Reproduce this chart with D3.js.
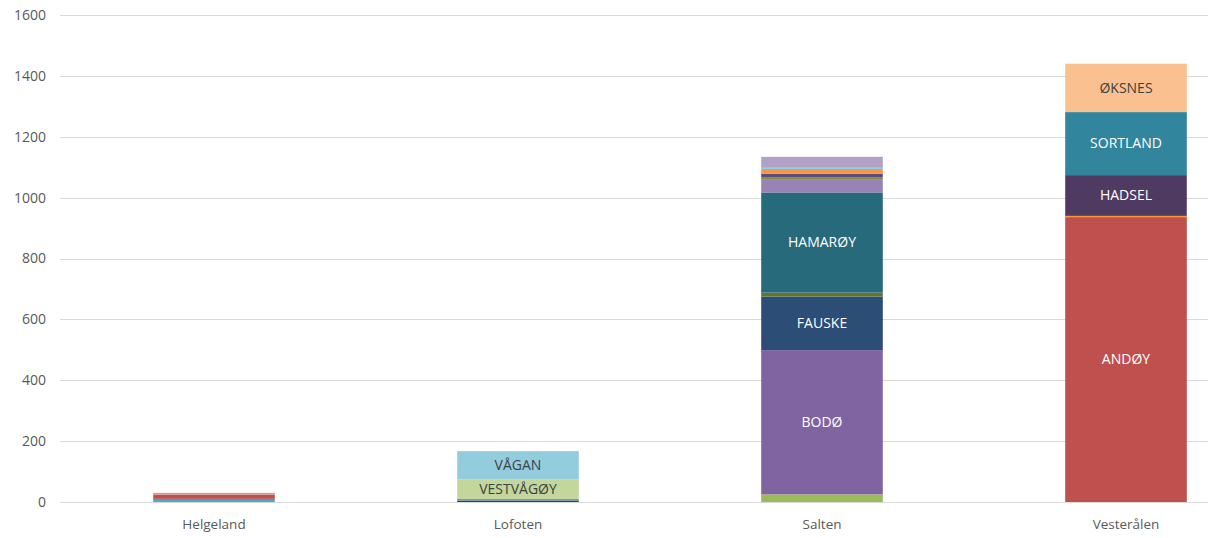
<!DOCTYPE html>
<html>
<head>
<meta charset="utf-8">
<script src="https://cdn.jsdelivr.net/npm/d3@7"></script>
<style>
  body { margin: 0; background: #fff; }
  svg { display: block; font-family: "Open Sans", "Noto Sans", sans-serif; }
</style>
</head>
<body>
<svg width="1208" height="538"></svg>
<script>
// regions on the x axis
var regions = ["Helgeland", "Lofoten", "Salten", "Vesterålen"];

// one entry per stacked segment, bottom to top within each region
var segRegion = ["Helgeland", "Helgeland", "Helgeland", "Helgeland",
                 "Lofoten", "Lofoten", "Lofoten", "Lofoten",
                 "Salten", "Salten", "Salten", "Salten", "Salten", "Salten", "Salten", "Salten", "Salten", "Salten", "Salten",
                 "Vesterålen", "Vesterålen", "Vesterålen", "Vesterålen", "Vesterålen"];
var segLabel  = ["", "", "", "",
                 "", "", "VESTVÅGØY", "VÅGAN",
                 "", "BODØ", "FAUSKE", "", "HAMARØY", "", "", "", "", "", "",
                 "ANDØY", "", "HADSEL", "SORTLAND", "ØKSNES"];
var segValue  = [8, 4, 12, 6,
                 5, 5, 64, 93,
                 25, 474, 176, 13, 329, 44, 5, 12, 16, 4, 36,
                 936, 4, 134, 207, 159];
var segColor  = ["#4bacc6", "#953735", "#c0504d", "#d99694",
                 "#772c2a", "#4bacc6", "#c3d69b", "#93cddd",
                 "#9bbb59", "#8064a2", "#2c4d75", "#5f7530", "#276a7c", "#9983b5", "#77933c", "#604a7b", "#f79646", "#93cddd", "#b2a1c7",
                 "#c0504d", "#f79646", "#4f3b62", "#31859c", "#fac090"];
var segText   = ["", "", "", "",
                 "", "", "#404040", "#404040",
                 "", "#fff", "#fff", "", "#fff", "", "", "", "", "", "",
                 "#fff", "", "#fff", "#fff", "#404040"];

var yTicks = [0, 200, 400, 600, 800, 1000, 1200, 1400, 1600];

var svg = d3.select("svg"),
    width = +svg.attr("width"),
    height = +svg.attr("height"),
    margin = { left: 62, top: 15, bottom: 36 };

// build a table for d3.stack: one row per region, one key per segment
var keys = segValue.map(function (v, i) { return "s" + i; });
var table = regions.map(function (r) {
    var row = { region: r };
    keys.forEach(function (k, i) { row[k] = segRegion[i] === r ? segValue[i] : 0; });
    return row;
});
var series = d3.stack().keys(keys)(table);

var x = d3.scaleBand()
    .domain(regions)
    .range([margin.left, margin.left + 304 * 4])
    .paddingInner(0.6)
    .paddingOuter(0.3);

var y = d3.scaleLinear()
    .domain([0, 1600])
    .range([height - margin.bottom, margin.top]);

// gridlines
svg.append("g")
    .selectAll("line")
    .data(yTicks)
    .enter().append("line")
    .attr("x1", margin.left - 2)
    .attr("x2", width)
    .attr("y1", function (d) { return Math.round(y(d)) + 0.5; })
    .attr("y2", function (d) { return Math.round(y(d)) + 0.5; })
    .attr("stroke", "#d9d9d9")
    .attr("stroke-width", 1);

// y tick labels
var yAxis = d3.axisLeft(y).tickValues(yTicks).tickFormat(d3.format("d")).tickSize(0).tickPadding(16);
svg.append("g")
    .attr("transform", "translate(" + margin.left + ",0)")
    .call(yAxis)
    .call(function (g) { g.select(".domain").remove(); })
    .selectAll("text")
    .attr("fill", "#595959")
    .style("font-size", "14px")
    .style("font-family", "'Open Sans', sans-serif");

// bars
var segs = [];
series.forEach(function (s, i) {
    s.forEach(function (d) {
        if (d[1] - d[0] > 0) segs.push({ i: i, region: d.data.region, y0: d[0], y1: d[1] });
    });
});

svg.append("g")
    .selectAll("rect")
    .data(segs)
    .enter().append("rect")
    .attr("x", function (d) { return x(d.region); })
    .attr("width", x.bandwidth())
    .attr("y", function (d) { return y(d.y1); })
    .attr("height", function (d) { return y(d.y0) - y(d.y1); })
    .attr("fill", function (d) { return segColor[d.i]; });

// segment labels
svg.append("g")
    .selectAll("text")
    .data(segs.filter(function (d) { return segLabel[d.i] !== ""; }))
    .enter().append("text")
    .attr("x", function (d) { return x(d.region) + x.bandwidth() / 2; })
    .attr("y", function (d) { return (y(d.y0) + y(d.y1)) / 2; })
    .attr("dy", "0.35em")
    .attr("text-anchor", "middle")
    .attr("fill", function (d) { return segText[d.i]; })
    .style("font-size", "14px")
    .text(function (d) { return segLabel[d.i]; });

// x axis baseline and category labels
var xAxis = d3.axisBottom(x).tickSize(0).tickPadding(17);
svg.append("g")
    .attr("transform", "translate(0," + (Math.round(y(0)) + 0.5) + ")")
    .call(xAxis)
    .call(function (g) { g.select(".domain").remove(); })
    .selectAll("text")
    .attr("fill", "#595959")
    .style("font-size", "13.5px")
    .style("font-family", "'Open Sans', sans-serif");

svg.append("line")
    .attr("x1", margin.left - 2)
    .attr("x2", width)
    .attr("y1", Math.round(y(0)) + 0.5)
    .attr("y2", Math.round(y(0)) + 0.5)
    .attr("stroke", "#d9d9d9");
</script>
</body>
</html>
